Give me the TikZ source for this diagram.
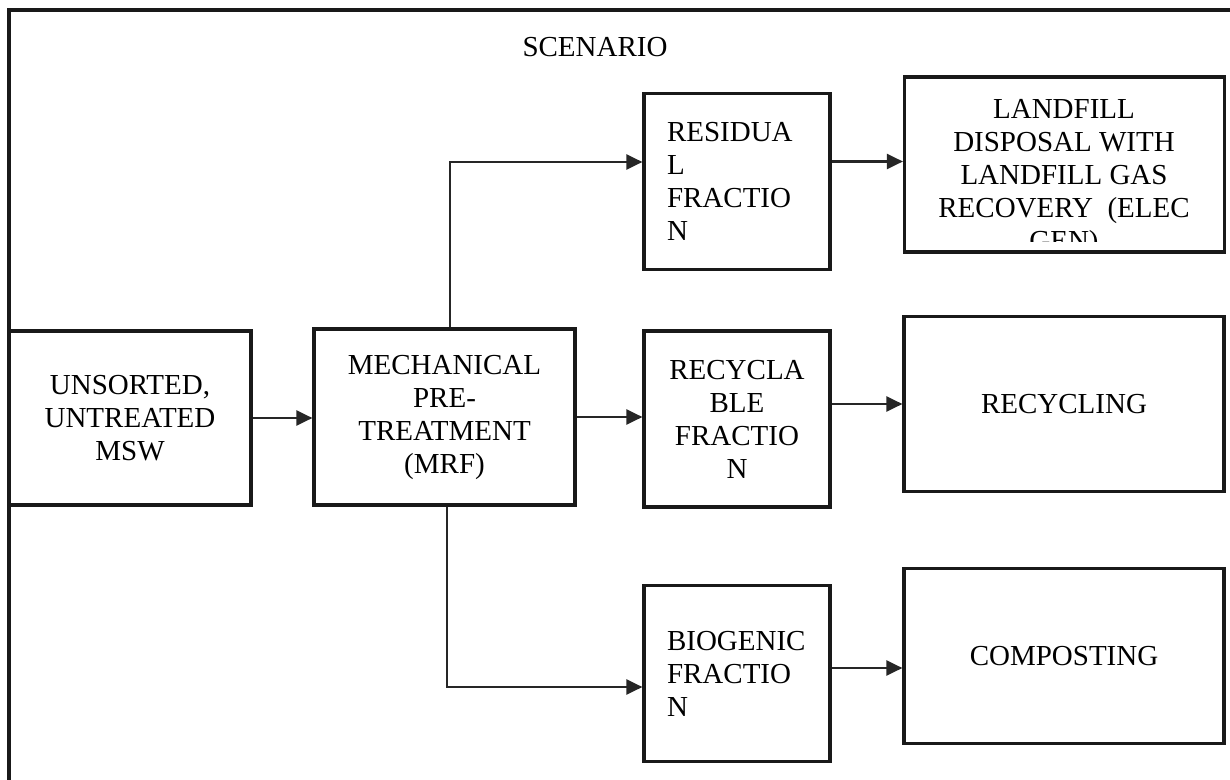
\documentclass[tikz,border=0pt]{standalone}
\usepackage{fontspec}
\setmainfont{Liberation Serif}
\usetikzlibrary{arrows.meta}
\usetikzlibrary{positioning}
\usetikzlibrary{calc}
\tikzstyle{block}=[draw=black!90,line width=1.6pt,inner sep=0pt,align=center]
\tikzstyle{flow}=[draw=black!85,line width=1.2pt,-{Triangle[length=8pt,width=7.5pt]}]

\begin{document}
\begin{tikzpicture}[
  x=0.5pt,y=-0.5pt,
  every node/.style={font=\fontsize{14.5}{16.5}\selectfont},
  small block/.style={block,minimum width=93pt,minimum height=88pt},
  left block/.style={small block,text width=70pt,align=left},
  wide block/.style={block,minimum width=160pt,minimum height=87.5pt},
]
\useasboundingbox (0,0) rectangle (1230,780);
% outer frame, cut at the right and bottom
\draw[line width=2pt,black!90] (9,780) -- (9,10) -- (1230,10);

\node (title) at (595,47) {SCENARIO};
\node[block,minimum width=121pt,minimum height=87pt] (msw) at (130,418) {UNSORTED,\\UNTREATED\\MSW};
\node[block,minimum width=130.5pt,minimum height=88pt] (mrf) at (444.5,417) {MECHANICAL\\PRE-\\TREATMENT\\(MRF)};
\node[left block] (resid) at (737,181.5) {RESIDUA\\L\\FRACTIO\\N};
\node[small block] (recfrac) at (737,419) {RECYCLA\\BLE\\FRACTIO\\N};
\node[left block] (bio) at (737,673.5) {BIOGENIC\\FRACTIO\\N};
\node[wide block] (landfill) at (1064.5,164.5) {};
\node[wide block] (recycling) at (1064,404) {RECYCLING};
\node[wide block] (compost) at (1064,656) {COMPOSTING};

% landfill label runs out of its box
\begin{scope}
  \clip (904,77) rectangle (1225,242);
  \node[align=center] (lftext) at (1064,178) {LANDFILL\\DISPOSAL WITH\\LANDFILL GAS\\RECOVERY\ \ (ELEC\\GEN)};
\end{scope}

\draw[flow] (msw.east) -- (msw.east -| mrf.west);
\draw[flow] (mrf.east) -- (mrf.east -| recfrac.west);
\draw[flow] ([xshift=2.75pt]mrf.north) |- ([yshift=9.75pt]resid.west);
\draw[flow] ([xshift=1.25pt]mrf.south) |- ([yshift=-6.75pt]bio.west);
\draw[flow] ([yshift=10pt]resid.east) coordinate (r1) -- (r1 -| landfill.west);
\draw[flow] (recycling.west -| recfrac.east) -- (recycling.west);
\draw[flow] ([yshift=2.75pt]bio.east) coordinate (b1) -- (b1 -| compost.west);
\end{tikzpicture}
\end{document}
